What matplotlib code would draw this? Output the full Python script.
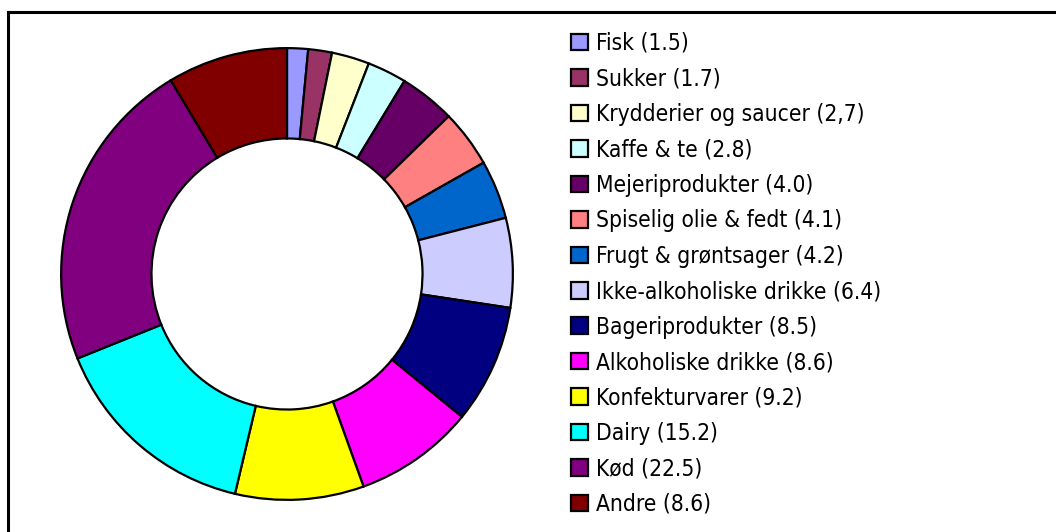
import matplotlib
matplotlib.use('Agg')
import matplotlib.pyplot as plt
from matplotlib.patches import Patch
from matplotlib.lines import Line2D

# data, clockwise from 12 o'clock
categories = ['Fisk', 'Sukker', 'Krydderier og saucer', 'Kaffe & te', 'Mejeriprodukter',
              'Spiselig olie & fedt', 'Frugt & grøntsager', 'Ikke-alkoholiske drikke',
              'Bageriprodukter', 'Alkoholiske drikke', 'Konfekturvarer', 'Dairy', 'Kød', 'Andre']
values = [1.5, 1.7, 2.7, 2.8, 4.0, 4.1, 4.2, 6.4, 8.5, 8.6, 9.2, 15.2, 22.5, 8.6]
value_text = ['1.5', '1.7', '2,7', '2.8', '4.0', '4.1', '4.2', '6.4', '8.5', '8.6', '9.2', '15.2', '22.5', '8.6']
colors = ['#9999FF', '#993366', '#FFFFCC', '#CCFFFF', '#660066', '#FF8080', '#0066CC',
          '#CCCCFF', '#000080', '#FF00FF', '#FFFF00', '#00FFFF', '#800080', '#800000']

W, H = 1056, 532
fig = plt.figure(figsize=(W / 100, H / 100), dpi=100)

# pie axes: centre (287, 274) px, radius 226 px
cx, cy, r = 287, 274, 227
ax = fig.add_axes([(cx - r) / W, (H - cy - r) / H, 2 * r / W, 2 * r / H])
ax.pie(values, colors=colors, startangle=90, counterclock=False, radius=1,
       wedgeprops=dict(width=0.4, edgecolor='black', linewidth=1.6))
ax.set_xlim(-1.005, 1.005)
ax.set_ylim(-1.005, 1.005)
ax.set_aspect('equal')
ax.axis('off')

# legend
labels = ['%s (%s)' % (c, v) for c, v in zip(categories, value_text)]
handles = [Patch(facecolor=c, edgecolor='black', linewidth=1.6) for c in colors]
leg = fig.legend(handles, labels, loc='upper left', bbox_to_anchor=(571 / W, 1 - 32 / H),
                 frameon=False, prop=dict(family='DejaVu Sans', stretch='condensed', size=16.3),
                 handlelength=0.75, handleheight=0.75,
                 handletextpad=0.35, labelspacing=0.55, borderpad=0, borderaxespad=0)

# outer frame (left and top edges visible)
fig.add_artist(Line2D([7.5 / W, 7.5 / W], [0, 1 - 11.5 / H], color='black', lw=2.2,
                      transform=fig.transFigure))
fig.add_artist(Line2D([7.5 / W, 1], [1 - 11.5 / H, 1 - 11.5 / H], color='black', lw=2.2,
                      transform=fig.transFigure))

fig.savefig('out.png', dpi=100)
